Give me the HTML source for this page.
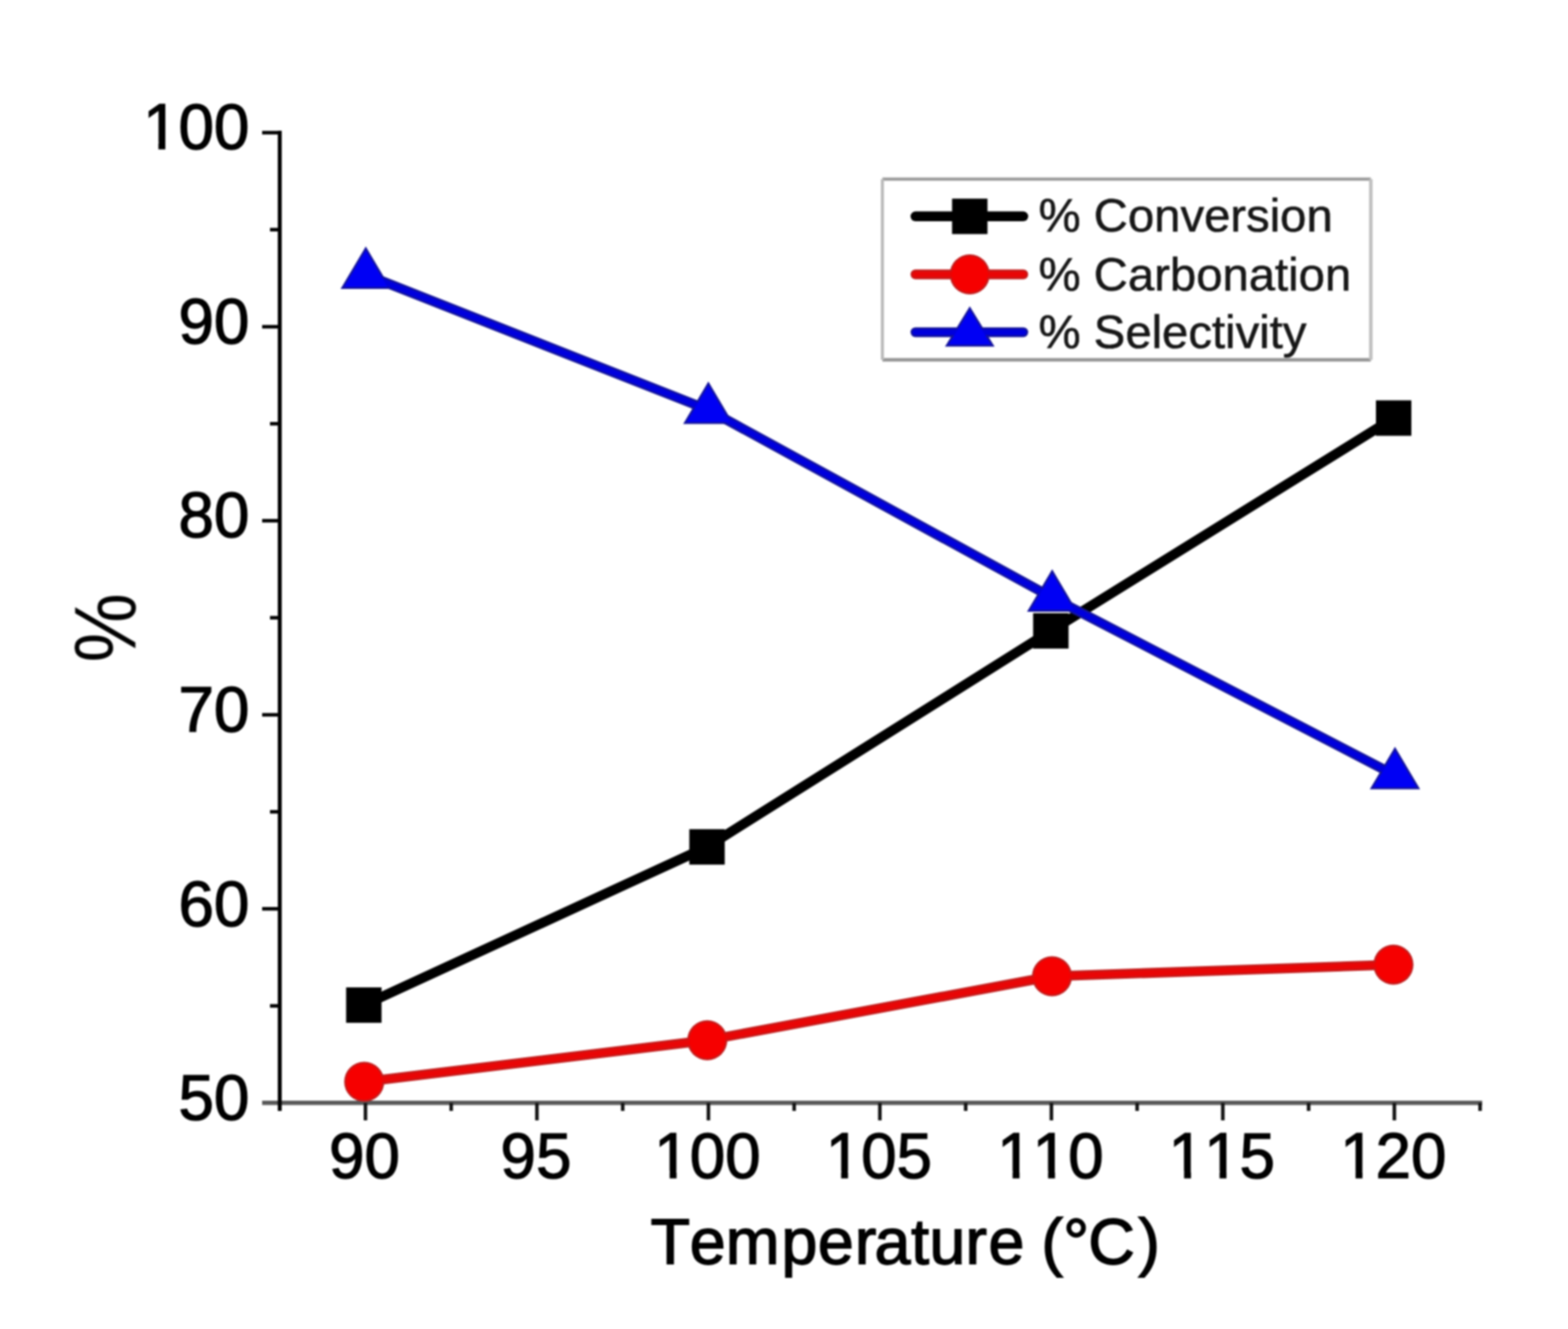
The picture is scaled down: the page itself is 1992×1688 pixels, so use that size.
<!DOCTYPE html>
<html><head><meta charset="utf-8"><title>Chart</title>
<style>html,body{margin:0;padding:0;background:#fff;}svg{display:block;}text{font-kerning:none;font-feature-settings:"kern" 0;font-variant-ligatures:none;}</style>
</head><body>
<svg width="1992" height="1688" viewBox="0 0 1992 1688">
<defs><filter id="soft" filterUnits="userSpaceOnUse" x="0" y="0" width="1992" height="1688" color-interpolation-filters="sRGB"><feGaussianBlur stdDeviation="0.8"/></filter></defs>
<rect width="1992" height="1688" fill="#fff"/>
<g filter="url(#soft)">
<line x1="333" y1="1400.8" x2="1883" y2="1400.8" stroke="#585858" stroke-width="5.5"/>
<line x1="355.4" y1="166" x2="355.4" y2="1411" stroke="#000" stroke-width="5"/>
<line x1="333" y1="1154.3" x2="355.4" y2="1154.3" stroke="#000" stroke-width="4.5"/>
<line x1="333" y1="907.9" x2="355.4" y2="907.9" stroke="#000" stroke-width="4.5"/>
<line x1="333" y1="661.4" x2="355.4" y2="661.4" stroke="#000" stroke-width="4.5"/>
<line x1="333" y1="415.0" x2="355.4" y2="415.0" stroke="#000" stroke-width="4.5"/>
<line x1="333" y1="168.5" x2="355.4" y2="168.5" stroke="#000" stroke-width="4.5"/>
<line x1="343" y1="1277.6" x2="355.4" y2="1277.6" stroke="#000" stroke-width="4.5"/>
<line x1="343" y1="1031.1" x2="355.4" y2="1031.1" stroke="#000" stroke-width="4.5"/>
<line x1="343" y1="784.6" x2="355.4" y2="784.6" stroke="#000" stroke-width="4.5"/>
<line x1="343" y1="538.2" x2="355.4" y2="538.2" stroke="#000" stroke-width="4.5"/>
<line x1="343" y1="291.7" x2="355.4" y2="291.7" stroke="#000" stroke-width="4.5"/>
<line x1="464.3" y1="1400.8" x2="464.3" y2="1423" stroke="#111" stroke-width="4.5"/>
<line x1="682.1" y1="1400.8" x2="682.1" y2="1423" stroke="#111" stroke-width="4.5"/>
<line x1="900.0" y1="1400.8" x2="900.0" y2="1423" stroke="#111" stroke-width="4.5"/>
<line x1="1117.8" y1="1400.8" x2="1117.8" y2="1423" stroke="#111" stroke-width="4.5"/>
<line x1="1335.7" y1="1400.8" x2="1335.7" y2="1423" stroke="#111" stroke-width="4.5"/>
<line x1="1553.5" y1="1400.8" x2="1553.5" y2="1423" stroke="#111" stroke-width="4.5"/>
<line x1="1771.4" y1="1400.8" x2="1771.4" y2="1423" stroke="#111" stroke-width="4.5"/>
<line x1="573.2" y1="1400.8" x2="573.2" y2="1411" stroke="#111" stroke-width="4.5"/>
<line x1="791.1" y1="1400.8" x2="791.1" y2="1411" stroke="#111" stroke-width="4.5"/>
<line x1="1008.9" y1="1400.8" x2="1008.9" y2="1411" stroke="#111" stroke-width="4.5"/>
<line x1="1226.8" y1="1400.8" x2="1226.8" y2="1411" stroke="#111" stroke-width="4.5"/>
<line x1="1444.6" y1="1400.8" x2="1444.6" y2="1411" stroke="#111" stroke-width="4.5"/>
<line x1="1662.5" y1="1400.8" x2="1662.5" y2="1411" stroke="#111" stroke-width="4.5"/>
<line x1="1880.3" y1="1400.8" x2="1880.3" y2="1411" stroke="#111" stroke-width="4.5"/>
<text x="316.8" y="1422.2" font-family='"Liberation Sans", Arial, Helvetica, sans-serif' font-size="81" text-anchor="end" fill="#000" stroke="#000" stroke-width="1.5">50</text>
<text x="316.8" y="1175.6" font-family='"Liberation Sans", Arial, Helvetica, sans-serif' font-size="81" text-anchor="end" fill="#000" stroke="#000" stroke-width="1.5">60</text>
<text x="316.8" y="928.9" font-family='"Liberation Sans", Arial, Helvetica, sans-serif' font-size="81" text-anchor="end" fill="#000" stroke="#000" stroke-width="1.5">70</text>
<text x="316.8" y="682.3" font-family='"Liberation Sans", Arial, Helvetica, sans-serif' font-size="81" text-anchor="end" fill="#000" stroke="#000" stroke-width="1.5">80</text>
<text x="316.8" y="435.6" font-family='"Liberation Sans", Arial, Helvetica, sans-serif' font-size="81" text-anchor="end" fill="#000" stroke="#000" stroke-width="1.5">90</text>
<text x="316.8" y="189.0" font-family='"Liberation Sans", Arial, Helvetica, sans-serif' font-size="81" text-anchor="end" fill="#000" stroke="#000" stroke-width="1.5">100</text>
<text x="463.0" y="1496.2" font-family='"Liberation Sans", Arial, Helvetica, sans-serif' font-size="81" text-anchor="middle" fill="#000" stroke="#000" stroke-width="1.5">90</text>
<text x="680.9" y="1496.2" font-family='"Liberation Sans", Arial, Helvetica, sans-serif' font-size="81" text-anchor="middle" fill="#000" stroke="#000" stroke-width="1.5">95</text>
<text x="898.7" y="1496.2" font-family='"Liberation Sans", Arial, Helvetica, sans-serif' font-size="81" text-anchor="middle" fill="#000" stroke="#000" stroke-width="1.5">100</text>
<text x="1116.5" y="1496.2" font-family='"Liberation Sans", Arial, Helvetica, sans-serif' font-size="81" text-anchor="middle" fill="#000" stroke="#000" stroke-width="1.5">105</text>
<text x="1334.4" y="1496.2" font-family='"Liberation Sans", Arial, Helvetica, sans-serif' font-size="81" text-anchor="middle" fill="#000" stroke="#000" stroke-width="1.5">110</text>
<text x="1552.2" y="1496.2" font-family='"Liberation Sans", Arial, Helvetica, sans-serif' font-size="81" text-anchor="middle" fill="#000" stroke="#000" stroke-width="1.5">115</text>
<text x="1770.1" y="1496.2" font-family='"Liberation Sans", Arial, Helvetica, sans-serif' font-size="81" text-anchor="middle" fill="#000" stroke="#000" stroke-width="1.5">120</text>
<rect x="184.15" y="180.10" width="17.1" height="11" fill="#fff"/>
<rect x="210.05" y="180.10" width="15.1" height="11" fill="#fff"/>
<rect x="833.63" y="1487.30" width="17.1" height="11" fill="#fff"/>
<rect x="859.53" y="1487.30" width="15.1" height="11" fill="#fff"/>
<rect x="1051.48" y="1487.30" width="17.1" height="11" fill="#fff"/>
<rect x="1077.38" y="1487.30" width="15.1" height="11" fill="#fff"/>
<rect x="1269.33" y="1487.30" width="17.1" height="11" fill="#fff"/>
<rect x="1295.23" y="1487.30" width="15.1" height="11" fill="#fff"/>
<rect x="1314.38" y="1487.30" width="17.1" height="11" fill="#fff"/>
<rect x="1340.28" y="1487.30" width="15.1" height="11" fill="#fff"/>
<rect x="1487.18" y="1487.30" width="17.1" height="11" fill="#fff"/>
<rect x="1513.08" y="1487.30" width="15.1" height="11" fill="#fff"/>
<rect x="1532.23" y="1487.30" width="17.1" height="11" fill="#fff"/>
<rect x="1558.13" y="1487.30" width="15.1" height="11" fill="#fff"/>
<rect x="1705.03" y="1487.30" width="17.1" height="11" fill="#fff"/>
<rect x="1730.93" y="1487.30" width="15.1" height="11" fill="#fff"/>
<text x="826.5 876.2 921.9 992.8 1038.9 1085.9 1111.0 1157.4 1180.7 1226.5 1255.8 1301.4 1323.1 1350.7 1382.5 1446.2" y="1604.6" font-family='"Liberation Sans", Arial, Helvetica, sans-serif' font-size="82" fill="#000" stroke="#000" stroke-width="1.8">Temperature (°C)</text>
<text transform="translate(133.1,797.35) rotate(-90) scale(0.99,1.11)" x="0" y="0" font-family='"Liberation Sans", Arial, Helvetica, sans-serif' font-size="100" text-anchor="middle" dominant-baseline="central" fill="#000">%</text>
<polyline points="462.2,1276.6 898.2,1075.7 1335.0,801.3 1770.5,531.0" fill="none" stroke="#000" stroke-width="12.5" stroke-linejoin="round" stroke-linecap="round"/>
<rect x="439.7" y="1254.1" width="45.0" height="45.0" fill="#000"/>
<rect x="875.7" y="1053.2" width="45.0" height="45.0" fill="#000"/>
<rect x="1312.5" y="778.8" width="45.0" height="45.0" fill="#000"/>
<rect x="1748.0" y="508.5" width="45.0" height="45.0" fill="#000"/>
<polyline points="462.7,1374.0 898.5,1321.2 1336.5,1240.0 1770.2,1225.2" fill="none" stroke="#c41c1c" stroke-width="12.5" stroke-linejoin="round" stroke-linecap="round"/>
<circle cx="462.7" cy="1374.0" r="25.5" fill="#c41c1c"/>
<circle cx="898.5" cy="1321.2" r="25.5" fill="#c41c1c"/>
<circle cx="1336.5" cy="1240.0" r="25.5" fill="#c41c1c"/>
<circle cx="1770.2" cy="1225.2" r="25.5" fill="#c41c1c"/>
<polyline points="462.7,1374.0 898.5,1321.2 1336.5,1240.0 1770.2,1225.2" fill="none" stroke="#e80606" stroke-width="7.5" stroke-linejoin="round" stroke-linecap="round"/>
<circle cx="462.7" cy="1374.0" r="23.0" fill="#f60000"/>
<circle cx="898.5" cy="1321.2" r="23.0" fill="#f60000"/>
<circle cx="1336.5" cy="1240.0" r="23.0" fill="#f60000"/>
<circle cx="1770.2" cy="1225.2" r="23.0" fill="#f60000"/>
<polyline points="464.7,348.9 899.9,520.5 1336.7,759.1 1772.2,984.6" fill="none" stroke="#14149c" stroke-width="12.5" stroke-linejoin="round" stroke-linecap="round"/>
<polygon points="464.7,312.9 496.7,366.9 432.7,366.9" fill="#14149c"/>
<polygon points="899.9,484.5 931.9,538.5 867.9,538.5" fill="#14149c"/>
<polygon points="1336.7,723.1 1368.7,777.1 1304.7,777.1" fill="#14149c"/>
<polygon points="1772.2,948.6 1804.2,1002.6 1740.2,1002.6" fill="#14149c"/>
<polyline points="464.7,348.9 899.9,520.5 1336.7,759.1 1772.2,984.6" fill="none" stroke="#0000dc" stroke-width="7.5" stroke-linejoin="round" stroke-linecap="round"/>
<polygon points="464.7,317.8 492.3,364.4 437.1,364.4" fill="#0000f4"/>
<polygon points="899.9,489.4 927.5,536.0 872.3,536.0" fill="#0000f4"/>
<polygon points="1336.7,728.0 1364.3,774.6 1309.1,774.6" fill="#0000f4"/>
<polygon points="1772.2,953.5 1799.8,1000.1 1744.6,1000.1" fill="#0000f4"/>
<rect x="1121" y="227.5" width="620.5" height="229.5" fill="#fff" stroke="none"/>
<line x1="1121" y1="227.5" x2="1741.5" y2="227.5" stroke="#999" stroke-width="4"/>
<line x1="1121" y1="457" x2="1741.5" y2="457" stroke="#959595" stroke-width="4.5"/>
<line x1="1121" y1="227.5" x2="1121" y2="457" stroke="#bbb" stroke-width="4"/>
<line x1="1741.5" y1="227.5" x2="1741.5" y2="457" stroke="#c0c0c0" stroke-width="4.5"/>
<line x1="1163" y1="274.8" x2="1300" y2="274.8" stroke="#000" stroke-width="12.5" stroke-linecap="round"/>
<rect x="1209.5" y="252.3" width="45.0" height="45.0" fill="#000"/>
<text x="1319.6" y="294" font-family='"Liberation Sans", Arial, Helvetica, sans-serif' font-size="60" fill="#161616" stroke="#161616" stroke-width="0.7">% Conversion</text>
<line x1="1163" y1="348.5" x2="1300" y2="348.5" stroke="#c41c1c" stroke-width="12.5" stroke-linecap="round"/>
<circle cx="1232" cy="348.5" r="25.5" fill="#c41c1c"/>
<line x1="1163" y1="348.5" x2="1300" y2="348.5" stroke="#e80606" stroke-width="7.5" stroke-linecap="round"/>
<circle cx="1232" cy="348.5" r="23.0" fill="#f60000"/>
<text x="1319.6" y="369.4" font-family='"Liberation Sans", Arial, Helvetica, sans-serif' font-size="60" fill="#161616" stroke="#161616" stroke-width="0.7">% Carbonation</text>
<line x1="1163" y1="422.0" x2="1300" y2="422.0" stroke="#14149c" stroke-width="12.5" stroke-linecap="round"/>
<polygon points="1232.0,388.9 1263.5,440.3 1200.5,440.3" fill="#14149c"/>
<line x1="1163" y1="422.0" x2="1300" y2="422.0" stroke="#0000dc" stroke-width="7.5" stroke-linecap="round"/>
<polygon points="1232.0,393.7 1259.0,437.8 1205.0,437.8" fill="#0000f4"/>
<text x="1319.6" y="441.7" font-family='"Liberation Sans", Arial, Helvetica, sans-serif' font-size="60" fill="#161616" stroke="#161616" stroke-width="0.7">% Selectivity</text>
</g>
</svg>
</body></html>
